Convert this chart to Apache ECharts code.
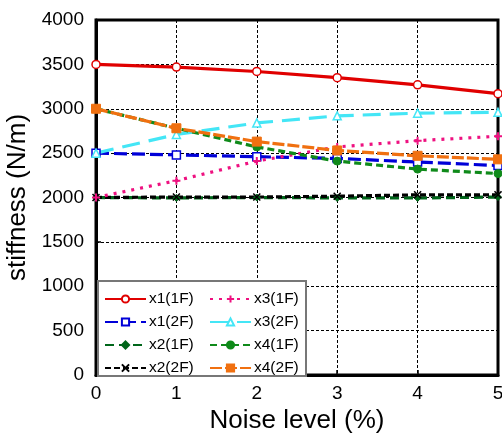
<!DOCTYPE html>
<html>
<head>
<meta charset="utf-8">
<script src="https://cdn.jsdelivr.net/npm/echarts@6/dist/echarts.min.js"></script>
<style>
html,body{margin:0;padding:0;background:#fff;}
#chart{width:502px;height:436px;}
</style>
</head>
<body>
<div id="chart"></div>
<script>
// Noise level (%) on the x axis
const noiseLevels = [0, 1, 2, 3, 4, 5];

// Identified stiffness (N/m) per floor / mode
const x1_1F = [3500, 3470, 3420, 3350, 3270, 3170];
const x1_2F = [2500, 2480, 2460, 2440, 2400, 2360];
const x2_1F = [2000, 1995, 2000, 1995, 1995, 2005];
const x2_2F = [2000, 2005, 2005, 2015, 2030, 2030];
const x3_1F = [2000, 2190, 2410, 2570, 2640, 2690];
const x3_2F = [2500, 2710, 2840, 2920, 2950, 2960];
const x4_1F = [3000, 2780, 2570, 2410, 2320, 2270];
const x4_2F = [3000, 2780, 2630, 2530, 2470, 2430];

const yTicks = [0, 500, 1000, 1500, 2000, 2500, 3000, 3500, 4000];

const font = 'Liberation Sans, Arial, sans-serif';

function pairs(vals) {
  return noiseLevels.map((x, i) => [x, vals[i]]);
}

function mk(name, vals, color, dash, symbol, hollow, size) {
  return {
    name: name,
    type: 'line',
    data: pairs(vals),
    symbol: symbol,
    symbolSize: size || 8,
    showSymbol: true,
    lineStyle: { color: color, width: 3.2, type: dash },
    itemStyle: hollow
      ? { color: '#fff', borderColor: color, borderWidth: 1.5 }
      : { color: color, borderColor: color, borderWidth: 1 },
    emphasis: { disabled: true },
    animation: false
  };
}

const crossPath = 'path://M0,0 L10,10 M10,0 L0,10';
const plusPath = 'path://M5,0 L5,10 M0,5 L10,5';

const series = [
  mk('x1(1F)', x1_1F, '#e00000', 'solid', 'circle', true, 8),
  mk('x1(2F)', x1_2F, '#0000d8', [13, 5], 'rect', true, 8),
  mk('x2(1F)', x2_1F, '#00661a', [9, 5], 'diamond', false, 7),
  mk('x2(2F)', x2_2F, '#000000', [6, 3], crossPath, true, 7),
  mk('x3(1F)', x3_1F, '#ee1180', [3, 6], plusPath, true, 8),
  mk('x3(2F)', x3_2F, '#44e6f6', [18, 9], 'triangle', true, 8),
  mk('x4(1F)', x4_1F, '#0f8a1a', [7, 4], 'circle', false, 8),
  mk('x4(2F)', x4_2F, '#f07010', [12, 3], 'rect', false, 9)
];
series[3].itemStyle = { color: '#000', borderColor: '#000', borderWidth: 1.5 };
series[4].itemStyle = { color: '#ee1180', borderColor: '#ee1180', borderWidth: 2 };

const legendText = { fontFamily: font, fontSize: 15.5, color: '#000', lineHeight: 14, padding: [0, 0, 0, -2] };

const chart = echarts.init(document.getElementById('chart'), null, { renderer: 'canvas' });
chart.setOption({
  backgroundColor: '#fff',
  animation: false,
  grid: {
    left: 96, right: 4, top: 20, bottom: 61,
    containLabel: false, outerBoundsMode: 'none',
    show: true, borderColor: '#000', borderWidth: 3, backgroundColor: 'transparent'
  },
  graphic: [{
    type: 'rect',
    left: 97, top: 280,
    shape: { width: 208, height: 95 },
    style: { fill: '#fff', stroke: '#777', lineWidth: 2 },
    z: 50
  }],
  legend: [
    {
      data: ['x1(1F)', 'x1(2F)', 'x2(1F)', 'x2(2F)'],
      orient: 'vertical', left: 104, top: 291, padding: 0,
      itemWidth: 41, itemHeight: 9, itemGap: 7,
      textStyle: legendText, selectedMode: false, z: 60
    },
    {
      data: ['x3(1F)', 'x3(2F)', 'x4(1F)', 'x4(2F)'],
      orient: 'vertical', left: 209, top: 291, padding: 0,
      itemWidth: 41, itemHeight: 9, itemGap: 7,
      textStyle: legendText, selectedMode: false, z: 60
    }
  ],
  xAxis: {
    type: 'value', min: 0, max: 5, interval: 1,
    name: 'Noise level (%)', nameLocation: 'middle', nameGap: 30,
    nameTextStyle: { fontFamily: font, fontSize: 26, color: '#000' },
    axisLine: { show: true, lineStyle: { color: '#000', width: 3 } },
    axisTick: { show: true, inside: true, length: 5, lineStyle: { color: '#000', width: 1.5 } },
    axisLabel: { fontFamily: font, fontSize: 19, color: '#000', margin: 9 },
    splitLine: { show: true, lineStyle: { color: '#000', width: 1, type: [3, 2] } }
  },
  yAxis: {
    type: 'value', min: 0, max: 4000, interval: 500,
    name: 'stiffness (N/m)', nameLocation: 'middle', nameGap: 61,
    nameTextStyle: { fontFamily: font, fontSize: 26, color: '#000' },
    axisLine: { show: true, lineStyle: { color: '#000', width: 3 } },
    axisTick: { show: true, inside: true, length: 5, lineStyle: { color: '#000', width: 1.5 } },
    axisLabel: {
      fontFamily: font, fontSize: 19, color: '#000', margin: 12,
      formatter: v => (yTicks.indexOf(v) >= 0 ? String(v) : '')
    },
    splitLine: { show: true, lineStyle: { color: '#000', width: 1, type: [3, 2] } }
  },
  series: series
});
</script>
</body>
</html>
